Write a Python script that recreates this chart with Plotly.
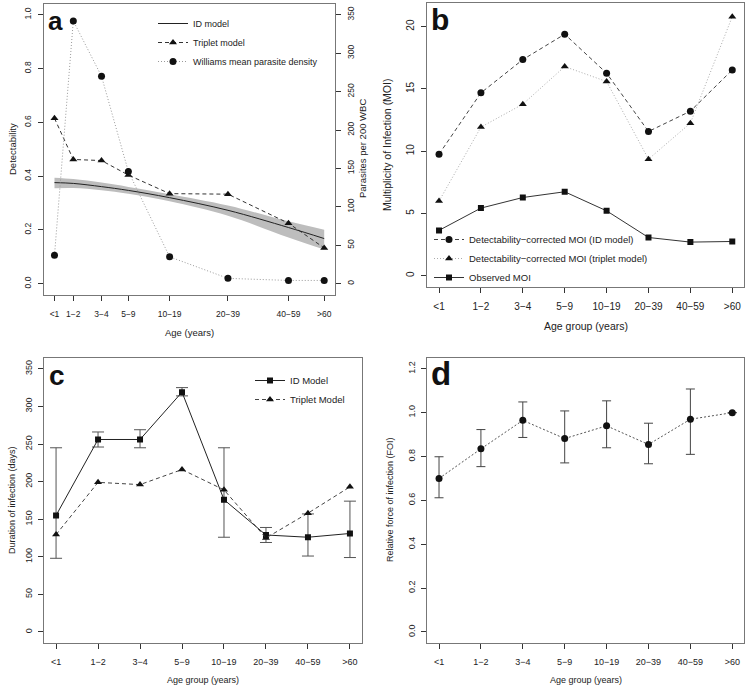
import numpy as np
import plotly.graph_objects as go

FONT = "Liberation Sans, Arial, sans-serif"
W, H = 748, 690

age_labels = ["<1", "1\u22122", "3\u22124", "5\u22129", "10\u221219", "20\u221239", "40\u221259", ">60"]
# panel a plots age groups on a sqrt(age) axis at these representative ages
age_plot_a = [0.5, 1.5, 4, 7.5, 15, 30, 51, 66]

# a: detectability
id_detect = [0.376, 0.373, 0.361, 0.347, 0.320, 0.273, 0.209, 0.168]
id_detect_lo = [0.355, 0.356, 0.348, 0.335, 0.307, 0.253, 0.172, 0.127]
id_detect_hi = [0.394, 0.389, 0.376, 0.360, 0.333, 0.291, 0.232, 0.201]
triplet_detect = [0.615, 0.462, 0.458, 0.404, 0.335, 0.333, 0.225, 0.133]
williams_density = [37, 342, 270, 146, 35, 7, 4.3, 4.3]

# b: multiplicity of infection
moi_id = [9.76, 14.68, 17.35, 19.39, 16.26, 11.58, 13.21, 16.52]
moi_triplet = [5.99, 11.93, 13.77, 16.79, 15.59, 9.36, 12.25, 20.8]
moi_observed = [3.64, 5.43, 6.28, 6.74, 5.21, 3.07, 2.70, 2.75]

# c: duration of infection (days)
dur_id = [155, 256, 256, 319, 176, 129, 126, 131]
dur_id_lo = [98, 246, 245, 314, 126, 119, 101, 99]
dur_id_hi = [245, 266, 269, 325, 245, 139, 157, 174]
dur_triplet = [129.5, 199, 196, 216, 189, 125, 158, 193]

# d: relative force of infection
foi = [0.700, 0.835, 0.965, 0.882, 0.940, 0.855, 0.970, 1.0]
foi_lo = [0.612, 0.754, 0.887, 0.771, 0.840, 0.767, 0.810, 1.0]
foi_hi = [0.799, 0.923, 1.049, 1.008, 1.054, 0.952, 1.108, 1.0]


def px_x(p):
    return p / W


def px_y(p):
    return 1 - p / H


def axis_base(size, **kw):
    d = dict(
        showline=True, linecolor="#777", linewidth=1, mirror=True,
        ticks="outside", ticklen=5, tickcolor="#333", tickwidth=1,
        showgrid=False, zeroline=False,
        tickfont=dict(family=FONT, size=size, color="#222"),
    )
    d.update(kw)
    return d


def legend_box(x, y, size):
    return dict(x=px_x(x), y=px_y(y), xanchor="left", yanchor="top", bgcolor="rgba(0,0,0,0)",
                font=dict(family=FONT, size=size, color="#222"), tracegroupgap=0,
                itemwidth=30, traceorder="normal")


xa = np.sqrt(age_plot_a)
xg = list(range(1, 9))

fig = go.Figure()

# ---- panel a
fig.add_trace(go.Scatter(x=xa, y=id_detect_lo, mode="lines", line=dict(width=0, shape="spline"),
                         showlegend=False, hoverinfo="skip", xaxis="x", yaxis="y"))
fig.add_trace(go.Scatter(x=xa, y=id_detect_hi, mode="lines", line=dict(width=0, shape="spline"),
                         fill="tonexty", fillcolor="#bdbdbd", showlegend=False, hoverinfo="skip",
                         xaxis="x", yaxis="y"))
fig.add_trace(go.Scatter(x=xa, y=id_detect, mode="lines", name="ID model",
                         line=dict(color="#222", width=1, shape="spline"), xaxis="x", yaxis="y",
                         legend="legend"))
fig.add_trace(go.Scatter(x=xa, y=triplet_detect, mode="lines+markers", name="Triplet model",
                         line=dict(color="#333", width=1, dash="4px,3px"),
                         marker=dict(symbol="triangle-up", size=7, color="#111"),
                         xaxis="x", yaxis="y", legend="legend"))
fig.add_trace(go.Scatter(x=xa, y=williams_density, mode="lines+markers",
                         name="Williams mean parasite density",
                         line=dict(color="#999", width=1, dash="1px,2px"),
                         marker=dict(symbol="circle", size=7, color="#111"),
                         xaxis="x", yaxis="y5", legend="legend"))

# ---- panel b
fig.add_trace(go.Scatter(x=xg, y=moi_id, mode="lines+markers", name="Detectability\u2212corrected MOI (ID model)",
                         line=dict(color="#444", width=1, dash="4px,3px"),
                         marker=dict(symbol="circle", size=7, color="#111"),
                         xaxis="x2", yaxis="y2", legend="legend2"))
fig.add_trace(go.Scatter(x=xg, y=moi_triplet, mode="lines+markers",
                         name="Detectability\u2212corrected MOI (triplet model)",
                         line=dict(color="#aaa", width=1, dash="1px,2px"),
                         marker=dict(symbol="triangle-up", size=7, color="#111"),
                         xaxis="x2", yaxis="y2", legend="legend2"))
fig.add_trace(go.Scatter(x=xg, y=moi_observed, mode="lines+markers", name="Observed MOI",
                         line=dict(color="#333", width=1),
                         marker=dict(symbol="square", size=6, color="#111"),
                         xaxis="x2", yaxis="y2", legend="legend2"))

# ---- panel c
dur_hi = np.array(dur_id_hi) - np.array(dur_id)
dur_lo = np.array(dur_id) - np.array(dur_id_lo)
fig.add_trace(go.Scatter(x=xg, y=dur_id, mode="lines+markers", name="ID Model",
                         line=dict(color="#222", width=1),
                         marker=dict(symbol="square", size=6, color="#111"),
                         error_y=dict(type="data", symmetric=False, array=dur_hi, arrayminus=dur_lo,
                                      color="#555", thickness=1, width=6),
                         xaxis="x3", yaxis="y3", legend="legend3"))
fig.add_trace(go.Scatter(x=xg, y=dur_triplet, mode="lines+markers", name="Triplet Model",
                         line=dict(color="#444", width=1, dash="4px,3px"),
                         marker=dict(symbol="triangle-up", size=7, color="#111"),
                         xaxis="x3", yaxis="y3", legend="legend3"))

# ---- panel d
foi_hi_d = np.array(foi_hi) - np.array(foi)
foi_lo_d = np.array(foi) - np.array(foi_lo)
fig.add_trace(go.Scatter(x=xg, y=foi, mode="lines+markers", showlegend=False,
                         line=dict(color="#555", width=1, dash="2px,2px"),
                         marker=dict(symbol="circle", size=7, color="#111"),
                         error_y=dict(type="data", symmetric=False, array=foi_hi_d, arrayminus=foi_lo_d,
                                      color="#444", thickness=1, width=4.5),
                         xaxis="x4", yaxis="y4"))

span_a = xa[-1] - xa[0]
layout = dict(
    width=W, height=H, margin=dict(l=0, r=0, t=0, b=0),
    paper_bgcolor="white", plot_bgcolor="white",
    font=dict(family=FONT, color="#222"),
    showlegend=True,
    xaxis=axis_base(8.5, domain=[px_x(43.7), px_x(335)], anchor="y",
                    range=[xa[0] - 0.04 * span_a, xa[-1] + 0.04 * span_a],
                    tickvals=xa, ticktext=age_labels, ticklabelstandoff=6),
    yaxis=axis_base(8.5, domain=[px_y(294.5), px_y(4)], anchor="x", range=[-0.04, 1.04],
                    tickvals=[0, 0.2, 0.4, 0.6, 0.8, 1.0], tickformat=".1f", tickangle=-90,
                    ticklabelstandoff=3),
    yaxis5=axis_base(8.5, overlaying="y", side="right", anchor="x", range=[-14, 364],
                     tickvals=list(range(0, 351, 50)), tickangle=-90, mirror=False,
                     ticklabelstandoff=3),
    xaxis2=axis_base(10, domain=[px_x(427.3), px_x(744)], anchor="y2", range=[0.72, 8.28],
                     tickvals=xg, ticktext=age_labels, ticklabelstandoff=5),
    yaxis2=axis_base(10, domain=[px_y(286.7), px_y(3.3)], anchor="x2", range=[-0.88, 21.87],
                     tickvals=[0, 5, 10, 15, 20], tickangle=-90, ticklabelstandoff=3),
    xaxis3=axis_base(9, domain=[px_x(44.3), px_x(361.7)], anchor="y3", range=[0.72, 8.28],
                     tickvals=xg, ticktext=age_labels, ticklabelstandoff=6),
    yaxis3=axis_base(9, domain=[px_y(642.5), px_y(358.3)], anchor="x3", range=[-14, 364],
                     tickvals=list(range(0, 351, 50)), tickangle=-90, ticklabelstandoff=3),
    xaxis4=axis_base(9, domain=[px_x(427.3), px_x(744)], anchor="y4", range=[0.72, 8.28],
                     tickvals=xg, ticktext=age_labels, ticklabelstandoff=6),
    yaxis4=axis_base(9, domain=[px_y(642.5), px_y(358.3)], anchor="x4", range=[-0.048, 1.248],
                     tickvals=[0, 0.2, 0.4, 0.6, 0.8, 1.0, 1.2], tickformat=".1f", tickangle=-90,
                     ticklabelstandoff=3),
    legend=legend_box(153, 9, 9),
    legend2=legend_box(429, 225, 9.5),
    legend3=legend_box(250, 366, 9.5),
)
fig.update_layout(**layout)


def note(text, x, y, size, angle=0, bold=False, xanchor="center", yanchor="middle"):
    fig.add_annotation(
        text=f"<b>{text}</b>" if bold else text, xref="paper", yref="paper",
        x=px_x(x), y=px_y(y), showarrow=False, textangle=angle,
        xanchor=xanchor, yanchor=yanchor,
        font=dict(family=FONT, size=size, color="#111" if bold else "#222"),
    )


# axis titles
note("Detectability", 13, 149, 9.5, angle=-90)
note("Parasites per 200 WBC", 363, 149, 9.5, angle=-90)
note("Age (years)", 189, 332, 9.5)
note("Multiplicity of Infection (MOI)", 387, 145, 10.5, angle=-90)
note("Age group (years)", 586, 326, 10.5)
note("Duration of infection (days)", 12, 500, 9, angle=-90)
note("Age group (years)", 203, 680, 9)
note("Relative force of infection (FOI)", 390, 500, 9, angle=-90)
note("Age group (years)", 586, 680, 9)

# panel letters
note("a", 46, 21, 26, bold=True, xanchor="left")
note("b", 429, 19.5, 30, bold=True, xanchor="left")
note("c", 47, 375, 28, bold=True, xanchor="left")
note("d", 429, 373.5, 33, bold=True, xanchor="left")

# drop the browser's default page margin so the 748x690 figure fills the window exactly
fig.write_html("out.html", config={"displayModeBar": False},
               post_script="document.body.style.margin='0';document.body.style.padding='0';")
